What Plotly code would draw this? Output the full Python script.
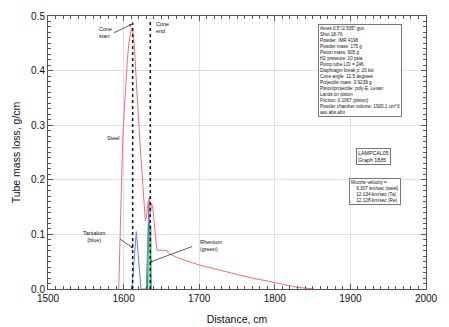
import plotly.graph_objects as go

# Steel (red)
steel_x = [1593.5, 1595, 1597, 1599, 1601, 1603, 1605, 1607, 1609, 1610.5, 1612, 1614, 1616, 1618,
           1620, 1622, 1624.5, 1626.5, 1628.7, 1630, 1632, 1634, 1635.5, 1637, 1638.5, 1640.5,
           1642.5, 1644, 1650, 1657, 1660, 1670, 1680, 1690, 1700, 1720, 1745, 1770, 1790,
           1805, 1816, 1830, 1840, 1852]
steel_y = [0.0, 0.08, 0.2, 0.28, 0.33, 0.38, 0.42, 0.45, 0.472, 0.478, 0.474, 0.45, 0.40, 0.345,
           0.30, 0.26, 0.21, 0.165, 0.125, 0.13, 0.155, 0.167, 0.14, 0.157, 0.15, 0.12,
           0.085, 0.071, 0.071, 0.070, 0.065, 0.058, 0.053, 0.048, 0.044, 0.037, 0.028, 0.020, 0.0147,
           0.011, 0.007, 0.003, 0.001, 0.0]

# Tantalum (blue)
ta_x = [1611, 1616.8, 1623, 1630, 1633.5, 1636.5]
ta_y = [0.0, 0.105, 0.0, 0.0, 0.16, 0.0]

# Rhenium (green)
re_x = [1631.5, 1633, 1636, 1636.3]
re_y = [0.0, 0.12, 0.115, 0.0]

# Cone markers
cone_start_x = 1612
cone_start_top = 0.488
cone_end_x = 1635.3
cone_end_top = 0.495

info_lines = [
    'Ames 0.5"/2.535" gun',
    'Shot 18-76',
    'Powder: IMR 4198',
    'Powder mass: 175 g',
    'Piston mass: 905 g',
    'H2 pressure: 10 psia',
    'Pump tube L/D = 246',
    'Diaphragm break p: 20 ksi',
    'Cone angle: 12.5 degrees',
    'Projectile mass: 0.9239 g',
    'Piston/projectile: poly-E, Lexan',
    'Lands on piston',
    'Friction: 0.1067 (piston)',
    'Powder chamber volume: 1920.1 cm^3',
    'asu,abs,abn',
]
id_lines = ['LAMPCAL05', 'Graph 1835']
vel_lines = ['Muzzle velocity =', '9.307 km/sec (steel)', '12.134 km/sec (Ta)', '12.128 km/sec (Re)']

FONT = "Liberation Sans, Arial, sans-serif"

fig = go.Figure()
fig.add_trace(go.Scatter(x=re_x, y=re_y, mode='lines', fill='toself',
                         fillcolor='rgba(140,235,140,0.9)',
                         line=dict(color='#22aa22', width=1)))
fig.add_trace(go.Scatter(x=ta_x, y=ta_y, mode='lines', line=dict(color='#5a82ee', width=1)))
fig.add_trace(go.Scatter(x=steel_x, y=steel_y, mode='lines', line=dict(color='#ff6868', width=1)))
fig.add_trace(go.Scatter(x=[cone_start_x, cone_start_x], y=[0, cone_start_top], mode='lines',
                         line=dict(color='#111', width=1.5, dash='dot')))
fig.add_trace(go.Scatter(x=[cone_end_x, cone_end_x], y=[0, cone_end_top], mode='lines',
                         line=dict(color='#111', width=1.5, dash='dot')))

anns = []
def txt(x, y, t, xanchor='center', size=5.5):
    anns.append(dict(x=x, y=y, xref='x', yref='y', text=t, showarrow=False, xanchor=xanchor,
                     yanchor='middle', align='left' if xanchor == 'left' else 'center',
                     font=dict(family=FONT, size=size, color='#111')))

def arrow(x0, y0, x1, y1):
    anns.append(dict(x=x1, y=y1, ax=x0, ay=y0, xref='x', yref='y', axref='x', ayref='y', text='',
                     showarrow=True, arrowhead=2, arrowsize=0.7, arrowwidth=0.8, arrowcolor='#333'))

txt(1565, 0.47, 'Cone<br>start', 'left')
txt(1639.6, 0.479, 'Cone<br>end', 'left')
txt(1586, 0.276, 'Steel')
txt(1561.7, 0.0965, 'Tantalum<br>(blue)')
txt(1698.4, 0.0793, 'Rhenium<br>(green)', 'left')
arrow(1585.4, 0.468, 1611.1, 0.485)
arrow(1593.4, 0.093, 1613.2, 0.0745)
arrow(1692.6, 0.0788, 1634.4, 0.049)

def box(x, y, lines, size, indent=False):
    if indent:
        t = lines[0] + '<br>' + '<br>'.join('&nbsp;&nbsp;&nbsp;&nbsp;' + l for l in lines[1:])
    else:
        t = '<br>'.join(lines)
    anns.append(dict(x=x, y=y, xref='paper', yref='paper', text=t, showarrow=False,
                     xanchor='left', yanchor='top', align='left', bgcolor='white',
                     bordercolor='#777', borderwidth=1, borderpad=1,
                     font=dict(family=FONT, size=size, color='#111')))

box(0.713, 0.971, info_lines, 4.6)
box(0.8156, 0.5165, id_lines, 5.3)
box(0.795, 0.4055, vel_lines, 4.7, indent=True)

axis_common = dict(showline=True, linecolor='#555', linewidth=1, mirror='ticks', ticks='inside',
                   ticklen=5, tickcolor='#555', showgrid=True, gridcolor='#dcdcf8', gridwidth=1,
                   zeroline=False, automargin=False, tickfont=dict(family=FONT, size=10, color='#111'))

fig.update_layout(
    width=449, height=327, margin=dict(l=48, r=23, t=16, b=38),
    paper_bgcolor='white', plot_bgcolor='white', showlegend=False,
    annotations=anns,
    xaxis=dict(range=[1500, 2000], dtick=100, tick0=1500,
               minor=dict(dtick=10, ticklen=3, ticks='inside', tickcolor='#555', showgrid=False),
               title=dict(text='Distance, cm', font=dict(family=FONT, size=10.5, color='#111'), standoff=12),
               **axis_common),
    yaxis=dict(range=[0, 0.5], dtick=0.1, tick0=0, tickformat='.1f',
               minor=dict(dtick=0.01, ticklen=3, ticks='inside', tickcolor='#555', showgrid=False),
               title=dict(text='Tube mass loss, g/cm', font=dict(family=FONT, size=10.5, color='#111'), standoff=8),
               **axis_common),
)

fig.write_html("out.html")
